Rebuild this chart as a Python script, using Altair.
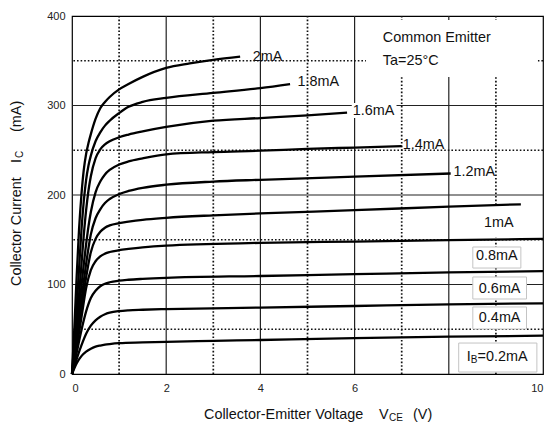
import altair as alt
import pandas as pd

FONT = "Liberation Sans"

# ---------------- data ----------------
ib_names = ["0.2mA", "0.4mA", "0.6mA", "0.8mA", "1mA", "1.2mA", "1.4mA", "1.6mA", "1.8mA", "2mA"]

vce_02 = [0, 0.1, 0.2, 0.3, 0.4, 0.5, 0.6, 0.7, 0.8, 1, 1.5, 2, 3, 4, 6, 8, 10]
ic_02 = [0, 12, 20, 25, 28.3, 30.5, 31.8, 32.8, 33.5, 34.5, 35.3, 36, 37, 38, 40, 41.7, 42.8]

vce_04 = [0, 0.1, 0.2, 0.3, 0.4, 0.5, 0.6, 0.7, 0.8, 1, 1.2, 1.5, 2, 4, 6, 8, 10]
ic_04 = [0, 17, 32, 45, 54, 60, 64, 66.8, 68.5, 70.3, 71.2, 71.8, 72.5, 74.2, 76, 77.8, 79]

vce_06 = [0, 0.1, 0.2, 0.3, 0.4, 0.5, 0.6, 0.7, 0.8, 1, 1.2, 1.5, 2, 4, 6, 8, 10]
ic_06 = [0, 24, 49, 70, 85, 93, 98, 100.8, 102.5, 104.3, 105.3, 106.3, 107.5, 109.5, 111.5, 113.5, 115]

vce_08 = [0, 0.1, 0.2, 0.3, 0.4, 0.5, 0.6, 0.7, 0.8, 1, 1.2, 1.5, 2, 4, 6, 8, 10]
ic_08 = [0, 30, 63, 96, 116, 126, 131.5, 134.5, 136.3, 138.3, 139.7, 141.5, 143.5, 146.5, 148, 149.5, 151]

vce_10 = [0, 0.1, 0.2, 0.3, 0.4, 0.5, 0.6, 0.7, 0.8, 1, 1.2, 1.5, 2, 3, 4, 6, 8, 9.53]
ic_10 = [0, 34, 72, 108, 136, 151, 159, 163.5, 166, 168.5, 170.2, 172.3, 174.5, 177.3, 179.5, 183, 187, 189.6]

vce_12 = [0, 0.1, 0.2, 0.3, 0.4, 0.5, 0.6, 0.7, 0.8, 1, 1.2, 1.5, 2, 3, 4, 6, 8.04]
ic_12 = [0, 38, 82, 123, 156, 174, 184, 191, 195.5, 201, 204.5, 208, 211.5, 215, 217, 220.5, 224]

vce_14 = [0, 0.1, 0.2, 0.3, 0.35, 0.4, 0.5, 0.6, 0.7, 0.8, 1, 1.2, 1.5, 2, 3, 4, 5, 6, 7]
ic_14 = [0, 45, 98, 145, 165, 181, 203, 215, 223, 228, 234, 237.5, 241, 245.5, 248, 249.5, 251.5, 253, 254.5]

vce_16 = [0, 0.1, 0.2, 0.25, 0.3, 0.35, 0.4, 0.5, 0.6, 0.7, 0.8, 1, 1.2, 1.5, 2, 3, 4, 5, 5.84]
ic_16 = [0, 55, 122, 155, 183, 205, 221, 241, 251, 256.5, 260, 264.5, 267.5, 271, 276, 283, 286, 289, 292]

vce_18 = [0, 0.1, 0.15, 0.2, 0.25, 0.3, 0.35, 0.4, 0.5, 0.6, 0.7, 0.8, 1, 1.2, 1.5, 2, 3, 4, 4.63]
ic_18 = [0, 75, 118, 160, 193, 217, 233, 244, 260, 270, 277.5, 283, 291.5, 298.5, 304, 308.5, 314, 319.5, 324]

vce_20 = [0, 0.05, 0.1, 0.15, 0.2, 0.25, 0.3, 0.35, 0.4, 0.5, 0.6, 0.7, 0.8, 1, 1.2, 1.5, 2, 2.5, 3, 3.57]
ic_20 = [0, 52, 110, 162, 200, 228, 246, 258, 268, 285, 297, 304, 309.5, 318, 324, 332, 342, 347, 351, 354.5]

vce_all = [vce_02, vce_04, vce_06, vce_08, vce_10, vce_12, vce_14, vce_16, vce_18, vce_20]
ic_all = [ic_02, ic_04, ic_06, ic_08, ic_10, ic_12, ic_14, ic_16, ic_18, ic_20]

grid_solid_x = [2, 4, 6, 8]
grid_dotted_x = [1, 3, 5, 7, 9]
grid_solid_y = [100, 200, 300]
grid_dotted_y = [50, 150, 250, 350]
x_ticks = [0, 2, 4, 6, 8, 10]
y_ticks = [0, 100, 200, 300, 400]

# ---------------- tables ----------------
rows = []
for name, xs_, ys_ in zip(ib_names, vce_all, ic_all):
    for i, (xv, yv) in enumerate(zip(xs_, ys_)):
        rows.append({"ib": name, "vce": xv, "ic": yv, "i": i})
curves_df = pd.DataFrame(rows)

# annotation layout (label placement, not data)
free_labels = pd.DataFrame({
    "t": ["2mA", "1.8mA", "1.6mA", "1.4mA", "1.2mA", "Common Emitter", "Ta=25°C", "I", "=0.2mA"],
    "x": [3.84, 4.79, 5.96, 7.02, 8.10, 6.60, 6.60, 8.38, 8.61],
    "y": [354.2, 326.3, 294.2, 255.9, 225.4, 375.4, 349.7, 18.8, 18.8],
})
center_labels = pd.DataFrame({
    "t": ["1mA", "0.8mA", "0.6mA", "0.4mA"],
    "x": [9.06, 9.02, 9.08, 9.08],
    "y": [169, 131.8, 95.5, 62.6],
})
sub_labels = pd.DataFrame({"t": ["B"], "x": [8.465], "y": [18.8]})

plain_boxes = pd.DataFrame({
    "x": [6.24, 8.62, 5.94], "x2": [9.89, 9.51, 6.89],
    "y": [331.8, 153, 286], "y2": [395.5, 187.7, 302.8],
})
framed_boxes = pd.DataFrame({
    "x": [8.51, 8.51, 8.51, 8.21], "x2": [9.53, 9.65, 9.65, 9.87],
    "y": [118.4, 83.8, 50.3, 2.2], "y2": [141.9, 108.4, 74.9, 34.6],
})

xs = alt.Scale(domain=[0, 10], nice=False, zero=False)
ys = alt.Scale(domain=[0, 400], nice=False, zero=False)

AX = alt.Axis(
    values=x_ticks, title=None, grid=False, ticks=False, domain=False,
    labelFont=FONT, labelFontSize=11, labelColor="#222", labelPadding=8,
    labelExpr="datum.value == 8 ? '' : datum.label")
AY = alt.Axis(
    values=y_ticks, title=None, grid=False, ticks=False, domain=False,
    labelFont=FONT, labelFontSize=11, labelColor="#222", labelPadding=7)


def X(f):
    return alt.X(f, scale=xs, axis=AX)


def Y(f):
    return alt.Y(f, scale=ys, axis=AY)


dot_style = dict(strokeDash=[1.6, 2], strokeWidth=1.7, color="#111111")
solid_style = dict(strokeWidth=1.2, color="#222222")

g_sx = alt.Chart(pd.DataFrame({"v": grid_solid_x})).mark_rule(**solid_style).encode(x=X("v:Q"))
g_dx = alt.Chart(pd.DataFrame({"v": grid_dotted_x})).mark_rule(**dot_style).encode(x=X("v:Q"))
g_sy = alt.Chart(pd.DataFrame({"v": grid_solid_y})).mark_rule(**solid_style).encode(y=Y("v:Q"))
g_dy = alt.Chart(pd.DataFrame({"v": grid_dotted_y})).mark_rule(**dot_style).encode(y=Y("v:Q"))

b_plain = alt.Chart(plain_boxes).mark_rect(color="white").encode(
    x=X("x:Q"), x2="x2", y=Y("y:Q"), y2="y2")
b_framed = alt.Chart(framed_boxes).mark_rect(fill="white", stroke="#c4c4c4", strokeWidth=1).encode(
    x=X("x:Q"), x2="x2", y=Y("y:Q"), y2="y2")

lines = alt.Chart(curves_df).mark_line(
    color="black", strokeWidth=2.3, interpolate="monotone"
).encode(
    x=X("vce:Q"),
    y=Y("ic:Q"),
    detail="ib:N",
    order="i:Q",
)

txt_free = alt.Chart(free_labels).mark_text(
    align="left", baseline="middle", font=FONT, fontSize=14.4, color="#111"
).encode(x=X("x:Q"), y=Y("y:Q"), text="t:N")
txt_center = alt.Chart(center_labels).mark_text(
    align="center", baseline="middle", font=FONT, fontSize=14.4, color="#111"
).encode(x=X("x:Q"), y=Y("y:Q"), text="t:N")
txt_sub = alt.Chart(sub_labels).mark_text(
    align="left", baseline="middle", font=FONT, fontSize=10, color="#111", dy=3
).encode(x=X("x:Q"), y=Y("y:Q"), text="t:N")


# axis titles built from text pieces (for subscripts); pixel positions relative to plot origin
def ptext(t, x, y, size=14.4, angle=0):
    return alt.Chart(pd.DataFrame({"t": [t]})).mark_text(
        align="left", baseline="middle", font=FONT, fontSize=size, color="#111", angle=angle
    ).encode(x=alt.value(x), y=alt.value(y), text="t:N")


OX, OY = 72, 16
xt_y = 415 - OY
x_title = [
    ptext("Collector-Emitter Voltage", 204 - OX, xt_y),
    ptext("V", 379 - OX, xt_y),
    ptext("CE", 389 - OX, xt_y + 3, size=10),
    ptext("(V)", 413 - OX, xt_y),
]
yt_x = 17 - OX
y_title = [
    ptext("Collector Current", yt_x, 286 - OY, angle=270),
    ptext("I", yt_x, 163 - OY, angle=270),
    ptext("C", yt_x + 3, 158 - OY, size=10, angle=270),
    ptext("(mA)", yt_x, 132 - OY, angle=270),
]

chart = alt.layer(
    g_sx, g_dx, g_sy, g_dy, b_plain, b_framed, lines,
    txt_free, txt_center, txt_sub, *x_title, *y_title
).properties(
    width=471, height=358,
    autosize=alt.AutoSizeParams(type="none"),
    padding={"left": 72, "top": 16, "right": 4, "bottom": 48},
    background="white",
).configure_view(stroke="black", strokeWidth=1.2)

chart.save("out.html", embed_options={"renderer": "svg", "actions": False})
